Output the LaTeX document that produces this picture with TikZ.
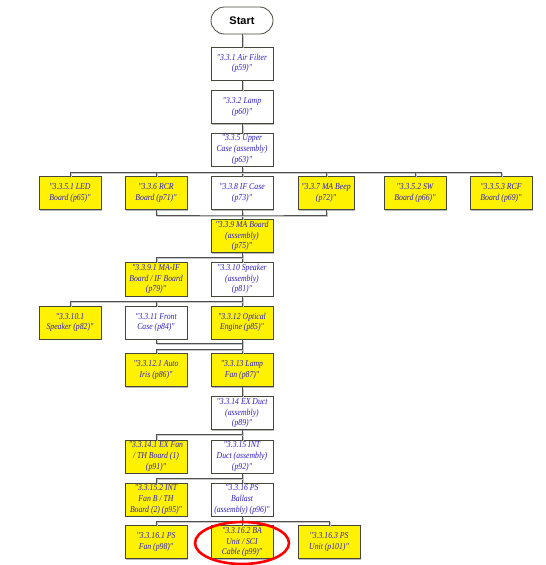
\documentclass[tikz,border=0pt]{standalone}
\usepackage{fontspec}
\setmainfont{Liberation Serif}
\newfontfamily\boxfont{Liberation Serif}[FakeStretch=0.86]
\newfontfamily\startfont{Liberation Sans}
\usetikzlibrary{shadows,shapes.geometric}
\definecolor{txtblue}{RGB}{45,30,200}
\definecolor{boxborder}{RGB}{70,70,60}
\definecolor{linegray}{RGB}{80,80,80}
\tikzset{
 box/.style={draw=boxborder, line width=0.8pt, minimum width=62pt, minimum height=33pt, inner sep=0pt, align=center,
   font=\boxfont\itshape\fontsize{9}{10.6}\selectfont, text=txtblue,
   drop shadow={shadow xshift=1.2pt, shadow yshift=-1.2pt, fill=gray!55, opacity=1}},
 ybox/.style={box, fill=yellow},
 wbox/.style={box, fill=white},
 conn/.style={draw=linegray, line width=0.8pt,
   preaction={draw=gray!45, line width=0.8pt, transform canvas={shift={(1.6pt,-1.6pt)}}}},
 startbox/.style={draw=boxborder, line width=0.8pt, fill=white, rounded corners=13.5pt, minimum width=62pt, minimum height=27pt, inner sep=0pt, font=\startfont\bfseries\fontsize{11}{13}\selectfont},
 hilite/.style={draw=red, line width=2.6pt, ellipse, minimum width=94pt, minimum height=42pt},
}
\begin{document}
\begin{tikzpicture}[x=1pt,y=-1pt]
\useasboundingbox (0,0) rectangle (546,565);
% bus coordinates
\coordinate (b1) at (242,172);
\coordinate (b2) at (242,215);
\coordinate (b3) at (242,257);
\coordinate (b4) at (242,301);
\coordinate (b5) at (242,343);
\coordinate (b6) at (242,349);
\coordinate (b7) at (242,434);
\coordinate (b8) at (242,478);
\coordinate (b9) at (242,521);
% main column
\node[startbox] (start) at (242,20.5) {Start};
\node[wbox] (air) at (242,63.5) {"3.3.1 Air Filter\\(p59)"};
\node[wbox] (lamp) at (242,107) {"3.3.2 Lamp\\(p60)"};
\node[wbox] (upper) at (242,149.5) {"3.3.5 Upper\\Case (assembly)\\(p63)"};
% row 2
\node[ybox] (led) at (70,193) {"3.3.5.1 LED\\Board (p65)"};
\node[ybox] (rcr) at (156,193) {"3.3.6 RCR\\Board (p71)"};
\node[wbox] (ifc) at (242,193) {"3.3.8 IF Case\\(p73)"};
\node[ybox, minimum width=56pt] (beep) at (326,193) {"3.3.7 MA Beep\\(p72)"};
\node[ybox] (sw) at (415,193) {"3.3.5.2 SW\\Board (p66)"};
\node[ybox] (rcf) at (501,193) {"3.3.5.3 RCF\\Board (p69)"};
% row 3
\node[ybox] (ma) at (242,236) {"3.3.9 MA Board\\(assembly)\\(p75)"};
% row 4
\node[ybox, minimum height=34pt] (maif) at (156,279) {"3.3.9.1 MA-IF\\Board / IF Board\\(p79)"};
\node[wbox, minimum height=34pt] (spk) at (242,279) {"3.3.10 Speaker\\(assembly)\\(p81)"};
% row 5
\node[ybox] (spk1) at (70,322.5) {"3.3.10.1\\Speaker (p82)"};
\node[wbox] (front) at (156,322.5) {"3.3.11 Front\\Case (p84)"};
\node[ybox] (opt) at (242,322.5) {"3.3.12 Optical\\Engine (p85)"};
% row 6
\node[ybox] (iris) at (156,370) {"3.3.12.1 Auto\\Iris (p86)"};
\node[ybox] (lfan) at (242,370) {"3.3.13 Lamp\\Fan (p87)"};
% row 7
\node[wbox] (exd) at (242,413) {"3.3.14 EX Duct\\(assembly)\\(p89)"};
% row 8
\node[ybox] (exfan) at (156,456.5) {"3.3.14.1 EX Fan\\/ TH Board (1)\\(p91)"};
\node[wbox] (intd) at (242,456.5) {"3.3.15 INT\\Duct (assembly)\\(p92)"};
% row 9
\node[ybox] (intfan) at (156,499.5) {"3.3.15.2 INT\\Fan B / TH\\Board (2) (p95)"};
\node[wbox] (psb) at (242,499.5) {"3.3.16 PS\\Ballast\\(assembly) (p96)"};
% row 10
\node[ybox] (psfan) at (156,542) {"3.3.16.1 PS\\Fan (p98)"};
\node[ybox] (ba) at (242,542) {"3.3.16.2 BA\\Unit / SCI\\Cable (p99)"};
\node[ybox] (psu) at (329,542) {"3.3.16.3 PS\\Unit (p101)"};
% connectors
\draw[conn] (start.south) -- (air.north);
\draw[conn] (air.south) -- (lamp.north);
\draw[conn] (lamp.south) -- (upper.north);
\draw[conn] (upper.south) -- (ifc.north);
\draw[conn] (led.north) |- (b1);
\draw[conn] (rcr.north) |- (b1);
\draw[conn] (rcf.north) |- (b1);
\draw[conn] (sw.north) |- (b1);
\draw[conn] (beep.north) |- (b1);
\draw[conn] (ifc.south) -- (ma.north);
\draw[conn] (rcr.south) |- (b2) -| (beep.south);
\draw[conn] (ma.south) -- (spk.north);
\draw[conn] (maif.north) |- (b3);
\draw[conn] (spk.south) -- (opt.north);
\draw[conn] (spk1.north) |- (b4);
\draw[conn] (front.north) |- (b4);
\draw[conn] (front.south) |- (b5);
\draw[conn] (opt.south) -- (lfan.north);
\draw[conn] (iris.north) |- (b6);
\draw[conn] (lfan.south) -- (exd.north);
\draw[conn] (exd.south) -- (intd.north);
\draw[conn] (exfan.north) |- (b7);
\draw[conn] (intd.south) -- (psb.north);
\draw[conn] (intfan.north) |- (b8);
\draw[conn] (psb.south) -- (ba.north);
\draw[conn] (psfan.north) |- (b9);
\draw[conn] (psu.north) |- (b9);
% highlight
\node[hilite] (mark) at (242,543) {};
\end{tikzpicture}
\end{document}
